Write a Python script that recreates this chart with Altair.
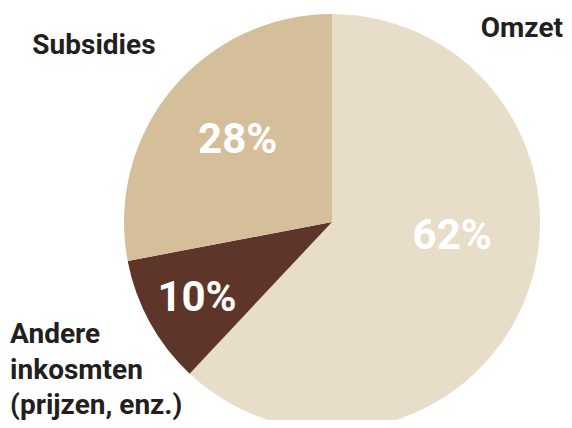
import altair as alt
import pandas as pd

# Data
categories = ["Omzet", "Andere inkosmten (prijzen, enz.)", "Subsidies"]
values = [62, 10, 28]
name_labels = ["Omzet", "Andere\ninkosmten\n(prijzen, enz.)", "Subsidies"]
pct_labels = ["62%", "10%", "28%"]
colors = ["#E8DDC8", "#5D3529", "#D5BE9A"]

df = pd.DataFrame({
    "idx": list(range(len(categories))),
    "category": categories,
    "value": values,
    "name": name_labels,
    "pct": pct_labels,
})

FONT = "Roboto"
DARK = "#231F20"

base = alt.Chart(df).encode(
    theta=alt.Theta("value:Q", stack=True),
    order=alt.Order("idx:Q", sort="ascending"),
)

pie = base.mark_arc(outerRadius=208, strokeWidth=0).encode(
    color=alt.Color(
        "category:N",
        scale=alt.Scale(domain=categories, range=colors),
        legend=None,
    )
)


def label(i, field, radius, dx, dy, size, color, align="center",
          baseline="middle", weight="bold", line_height=35.5):
    return base.mark_text(
        radius=radius, dx=dx, dy=dy, fontSize=size, font=FONT,
        fontWeight=weight, color=color, align=align, baseline=baseline,
        lineBreak="\n", lineHeight=line_height,
    ).encode(
        text=alt.condition(f"datum.idx == {i}", alt.Text(f"{field}:N"), alt.value(""))
    )


layers = [
    pie,
    label(0, "pct", 125, 4, -32, 42, "white"),
    label(1, "pct", 154, 0, 2, 42, "white"),
    label(2, "pct", 125, 2, -2, 42, "white"),
    label(0, "name", 0, 231, -185, 28, DARK, align="right", baseline="alphabetic"),
    label(1, "name", 300, -59, -23.5, 28, DARK, align="left", baseline="alphabetic"),
    label(2, "name", 290, -14.6, 16.8, 28, DARK, baseline="alphabetic"),
]

chart = alt.layer(*layers).properties(
    width=464,
    height=396,
    padding={"left": 92, "top": 16, "right": 0, "bottom": 0},
    autosize=alt.AutoSizeParams(type="none"),
    background="white",
).configure_view(stroke=None)

chart.save("out.html", embed_options={"renderer": "svg", "actions": False})
